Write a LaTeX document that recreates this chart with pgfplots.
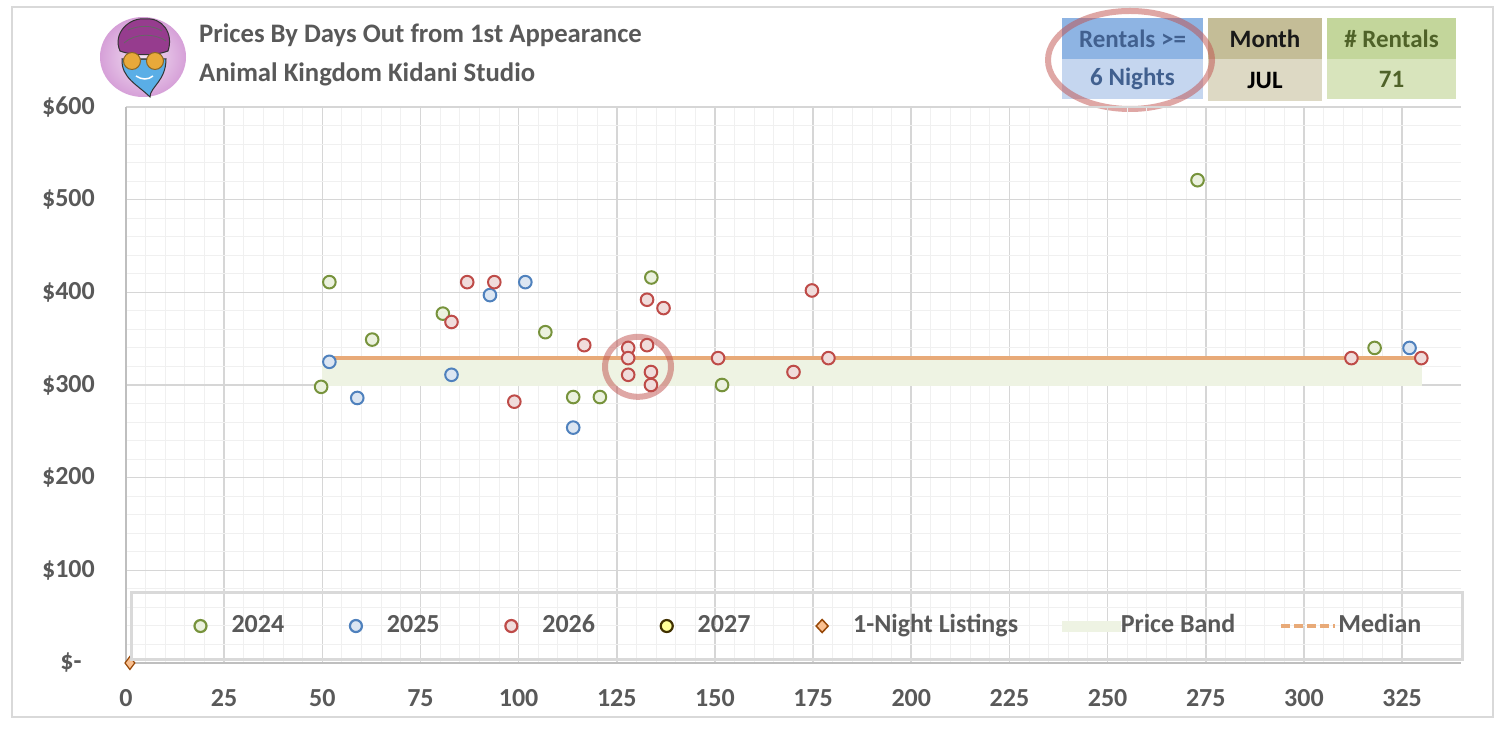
\documentclass[border=0pt]{standalone}
\usepackage{pgfplots}
\pgfplotsset{compat=1.18}
\usepackage{fontspec}
\setmainfont{Carlito}
\definecolor{txtgray}{HTML}{595959}
\definecolor{border}{HTML}{D9D9D9}
\definecolor{gridmaj}{HTML}{D6D6D6}
\definecolor{gridmin}{HTML}{F0F0F0}
\definecolor{axisgray}{HTML}{BFBFBF}
\definecolor{gE}{HTML}{77933C}\definecolor{gF}{HTML}{EBF1DE}
\definecolor{bE}{HTML}{4F81BD}\definecolor{bF}{HTML}{DCE6F2}
\definecolor{rE}{HTML}{BE4B48}\definecolor{rF}{HTML}{F0DCDB}
\definecolor{yE}{HTML}{403000}\definecolor{yF}{HTML}{FFFF99}
\definecolor{dE}{HTML}{984807}\definecolor{dF}{HTML}{FAC090}
\definecolor{bandc}{HTML}{EEF3E3}
\definecolor{medc}{RGB}{232,170,120}
\definecolor{annot}{HTML}{C0504D}
\definecolor{hb1}{HTML}{8EB4E3}\definecolor{hb2}{HTML}{C5D6EF}\definecolor{hbt}{HTML}{41608F}
\definecolor{hm1}{HTML}{C4BD97}\definecolor{hm2}{HTML}{DDD9C4}
\definecolor{hr1}{HTML}{C3D69B}\definecolor{hr2}{HTML}{D8E4BC}\definecolor{hrt}{HTML}{4F6228}
\definecolor{iconpink}{HTML}{D6A0D8}
\definecolor{faceblue}{HTML}{5AAEE6}
\definecolor{turban}{HTML}{963C8E}
\definecolor{gold}{HTML}{E8A93A}

\pgfplotstableread{
x y
49.7 298
51.8 411
62.7 349
80.7 377
106.8 357
113.9 287
120.7 287
133.8 416
151.8 300
272.9 521
318.0 340
}\tblA
\pgfplotstableread{
x y
51.8 325
58.9 286
82.9 311
92.7 397
101.7 411
113.9 254
326.9 340
}\tblB
\pgfplotstableread{
x y
82.9 368
86.9 411
93.8 411
98.9 282
116.7 343
127.9 340
127.9 329
127.9 311
132.7 392
132.7 343
136.9 383
133.7 314
133.7 300
150.8 329
170.0 314
174.7 402
178.9 329
312.1 329
329.9 329
}\tblC

\newcommand{\titlefont}{\fontsize{26.7}{30}\selectfont\bfseries}
\newcommand{\hdrfont}{\fontsize{25}{30}\selectfont\bfseries}
\newcommand{\tickfont}{\fontsize{26}{30}\selectfont\bfseries}
\newcommand{\legbox}{\path[draw=none,fill=none] (0pt,-8pt) rectangle (59pt,8pt);}
\newcommand{\legcirc}[2]{\legbox\draw[draw=#1, fill=#2, line width=2.2pt, solid] (28pt,0pt) circle (6pt);}

\begin{document}
\begin{tikzpicture}[x=1pt,y=1pt]
\path[use as bounding box, fill=white] (0,0) rectangle (1504,733);
\draw[color=border, line width=1.5pt] (12,16) rectangle (1493,726);

% icon
\shade[inner color=white!70!iconpink, outer color=iconpink] (143,676) ellipse [x radius=43, y radius=40];
\filldraw[fill=faceblue, draw=black!80, line width=1pt] (122,674) .. controls (121,655) and (138,648) .. (150,636) .. controls (150,646) and (166,652) .. (166,674) -- cycle;
\filldraw[fill=turban, draw=black!80, line width=1pt] (120,682) .. controls (112,700) and (130,716) .. (145,714) .. controls (162,716) and (174,700) .. (168,682) .. controls (155,677) and (133,677) .. (120,682) -- cycle;
\draw[black!60, line width=0.8pt] (124,690) .. controls (135,700) and (155,700) .. (166,692);
\draw[black!60, line width=0.8pt] (128,703) .. controls (140,708) and (152,708) .. (162,702);
\filldraw[fill=gold, draw=gold!60!black, line width=1pt] (132,672) circle (8.5);
\filldraw[fill=gold, draw=gold!60!black, line width=1pt] (155,672) circle (8.5);
\draw[black!70, line width=1pt] (140.5,673) -- (146.5,673);
\draw[white, line width=1.5pt] (136,657) .. controls (142,653) and (148,653) .. (153,657);

% titles
\node[anchor=base west, inner sep=0pt, font=\titlefont, text=txtgray] at (199,690) {Prices By Days Out from 1st Appearance};
\node[anchor=base west, inner sep=0pt, font=\titlefont, text=txtgray] at (199,651) {Animal Kingdom Kidani Studio};

% header boxes
\fill[hb1] (1062,674) rectangle (1203,715);
\fill[hb2] (1062,634) rectangle (1203,674);
\fill[hm1] (1208,674) rectangle (1322,715);
\fill[hm2] (1208,632) rectangle (1322,674);
\fill[hr1] (1327,674) rectangle (1456,715);
\fill[hr2] (1327,634) rectangle (1456,674);
\node[font=\hdrfont, text=hbt] at (1132.5,694.5) {Rentals >=};
\node[font=\hdrfont, text=hbt] at (1132.5,654) {6 Nights};
\node[font=\hdrfont, text=black!90] at (1265,694.5) {Month};
\node[font=\hdrfont, text=black] at (1265,653) {JUL};
\node[font=\hdrfont, text=hrt] at (1391.5,694.5) {\# Rentals};
\node[font=\hdrfont, text=hrt] at (1391.5,654) {71};
\draw[annot, draw opacity=0.5, line width=6pt] (1130,673) ellipse [x radius=82, y radius=49];

\begin{axis}[
  at={(126pt,70pt)}, anchor=south west,
  scale only axis, width=1335pt, height=556pt,
  xmin=0, xmax=340, ymin=0, ymax=600,
  clip=false,
  axis x line=bottom, axis y line=left,
  axis line style={-, draw=axisgray, line width=1.3pt},
  xtick={0,25,50,75,100,125,150,175,200,225,250,275,300,325},
  xticklabels={0,25,50,75,100,125,150,175,200,225,250,275,300,325},
  ytick={0,100,200,300,400,500,600},
  yticklabels={\$-\hphantom{0},\$100,\$200,\$300,\$400,\$500,\$600},
  minor x tick num=4, minor y tick num=4,
  grid=both,
  major grid style={draw=gridmaj, line width=1.6pt},
  minor grid style={draw=gridmin, line width=1pt},
  major tick length=0pt, minor tick length=0pt,
  tick label style={font=\tickfont, text=txtgray},
  xticklabel style={anchor=north, inner sep=0pt, yshift=-26pt},
  yticklabel style={anchor=east, inner sep=0pt, xshift=-31pt},
  legend columns=7,
  legend style={
    at={(0.003,0.0665)}, anchor=west,
    draw=border, line width=3pt, fill=none,
    font=\fontsize{26}{30}\selectfont\bfseries, text=txtgray,
    inner xsep=41pt, inner ysep=22pt,
    nodes={inner sep=0pt, text height=18pt, text depth=5pt},
    cells={anchor=west},
    /tikz/every even column/.append style={column sep=43.7pt},
  },
]
\addplot[draw=none, fill=bandc, forget plot] coordinates {(50,299) (330,299) (330,328) (50,328)} -- cycle;
\addplot[draw=medc, line width=4pt, forget plot] coordinates {(51.8,329) (330,329)};
\addplot[only marks, mark=*, mark size=6.3pt, mark options={draw=gE, fill=gF, line width=2pt}, forget plot] table {\tblA};
\addplot[only marks, mark=*, mark size=6.3pt, mark options={draw=bE, fill=bF, line width=2pt}, forget plot] table {\tblB};
\addplot[only marks, mark=*, mark size=6.3pt, mark options={draw=rE, fill=rF, line width=2pt}, forget plot] table {\tblC};
\addplot[only marks, mark=diamond*, mark size=6.5pt, mark options={draw=dE, fill=dF, line width=1.2pt}, forget plot] coordinates {(1,0)};
\draw[annot, draw opacity=0.5, line width=6pt] (axis cs:130.4,319.6) ellipse [x radius=33pt, y radius=30pt];

\addlegendimage{legend image code/.code={\legcirc{gE}{gF}}}
\addlegendentry{2024}
\addlegendimage{legend image code/.code={\legcirc{bE}{bF}}}
\addlegendentry{2025}
\addlegendimage{legend image code/.code={\legcirc{rE}{rF}}}
\addlegendentry{2026}
\addlegendimage{legend image code/.code={\legcirc{yE}{yF}}}
\addlegendentry{2027}
\addlegendimage{legend image code/.code={\legbox\draw[draw=dE, fill=dF, line width=1.5pt, solid] (28pt,6.5pt) -- (34pt,0pt) -- (28pt,-6.5pt) -- (22pt,0pt) -- cycle;}}
\addlegendentry{1-Night Listings}
\addlegendimage{legend image code/.code={\legbox\fill[bandc, draw=none] (0pt,-5.5pt) rectangle (59pt,5.5pt);}}
\addlegendentry{Price Band}
\addlegendimage{legend image code/.code={\path[draw=none,fill=none] (0pt,-8pt) rectangle (57pt,8pt); \draw[draw=medc, line width=4.5pt, dash pattern=on 9pt off 4pt] (0pt,0pt) -- (54pt,0pt);}}
\addlegendentry{Median}
\end{axis}
\end{tikzpicture}
\end{document}
